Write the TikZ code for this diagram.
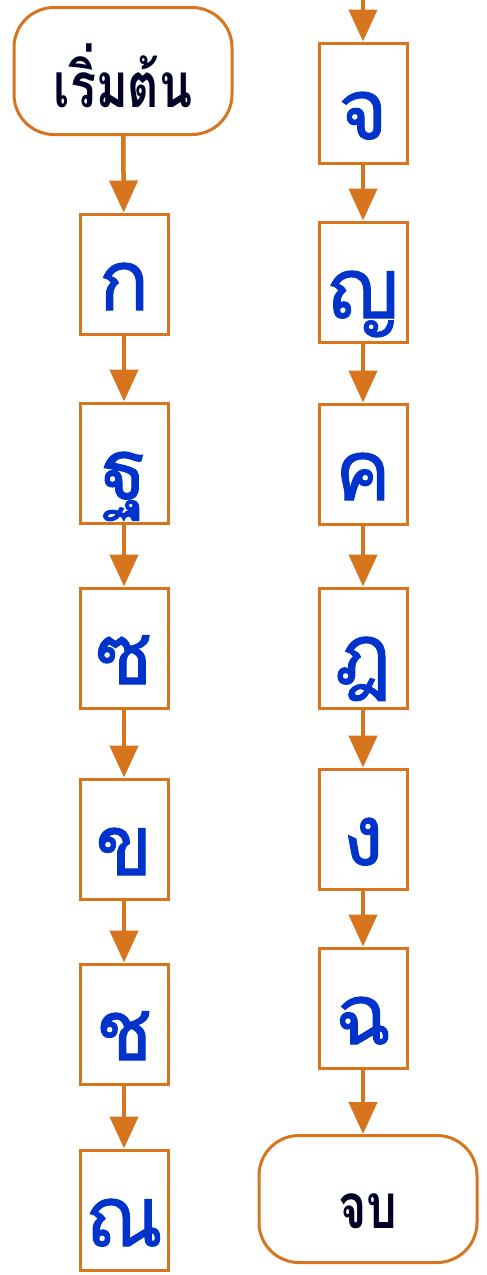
\documentclass[tikz,border=0pt]{standalone}
\usepackage{fontspec}
\usetikzlibrary{arrows.meta}
\newfontfamily\thaifont[Script=Thai,FakeBold=1.2]{Loma}
\newfontfamily\termfont[Script=Thai,FakeStretch=0.78]{Loma}
\definecolor{flow}{RGB}{214,117,30}
\definecolor{thaiblue}{RGB}{0,51,204}
\begin{document}
\begin{tikzpicture}[x=1pt,y=-1pt,
    box/.style={draw=flow,line width=3pt,fill=white,minimum width=88pt,minimum height=120pt,
      inner sep=0pt,text height=74pt,text depth=2pt,font=\thaifont\fontsize{84}{84}\selectfont,text=thaiblue},
    term/.style={draw=flow,line width=3pt,fill=white,rounded corners=40pt,minimum width=218pt,minimum height=127pt,
      inner sep=0pt,text height=75pt,text depth=2pt,font=\termfont\bfseries\fontsize{62}{62}\selectfont,text=black!85!blue},
    arr/.style={draw=flow,line width=4.5pt,-{Triangle[width=28pt,length=32pt]}}]
    \useasboundingbox (0,0) rectangle (487,1275);
    \fill[white] (0,0) rectangle (487,1275);
          % left column
          \node[term] (st) at (123,71) {เริ่มต้น};
          \node[box] (k1) at (124,274) {ก};
          \node[box] (k2) at (124,463) {ฐ};
          \node[box] (k3) at (124,648) {ซ};
          \node[box] (k4) at (124,839) {ข};
          \node[box] (k5) at (124,1024) {ช};
          \node[box] (k6) at (124,1210) {ณ};
          % right column
          \coordinate (top) at (363,-2);
          \node[box] (k7) at (363,103) {จ};
          \node[box] (k8) at (363,282) {ญ};
          \node[box] (k9) at (363,464) {ค};
          \node[box] (k10) at (363,648) {ฎ};
          \node[box] (k11) at (363,829) {ง};
          \node[box] (k12) at (363,1008) {ฉ};
          \node[term,text height=60pt] (en) at (368,1199) {จบ};

          \draw[arr] (st) -- (k1);
          \foreach \a/\b in {k1/k2,k2/k3,k3/k4,k4/k5,k5/k6,k7/k8,k8/k9,k9/k10,k10/k11,k11/k12}
            \draw[arr] (\a) -- (\b);
          \draw[arr] (top) -- (k7);
          \draw[arr] (k12) -- (k12|-en.north);
\end{tikzpicture}
\end{document}
